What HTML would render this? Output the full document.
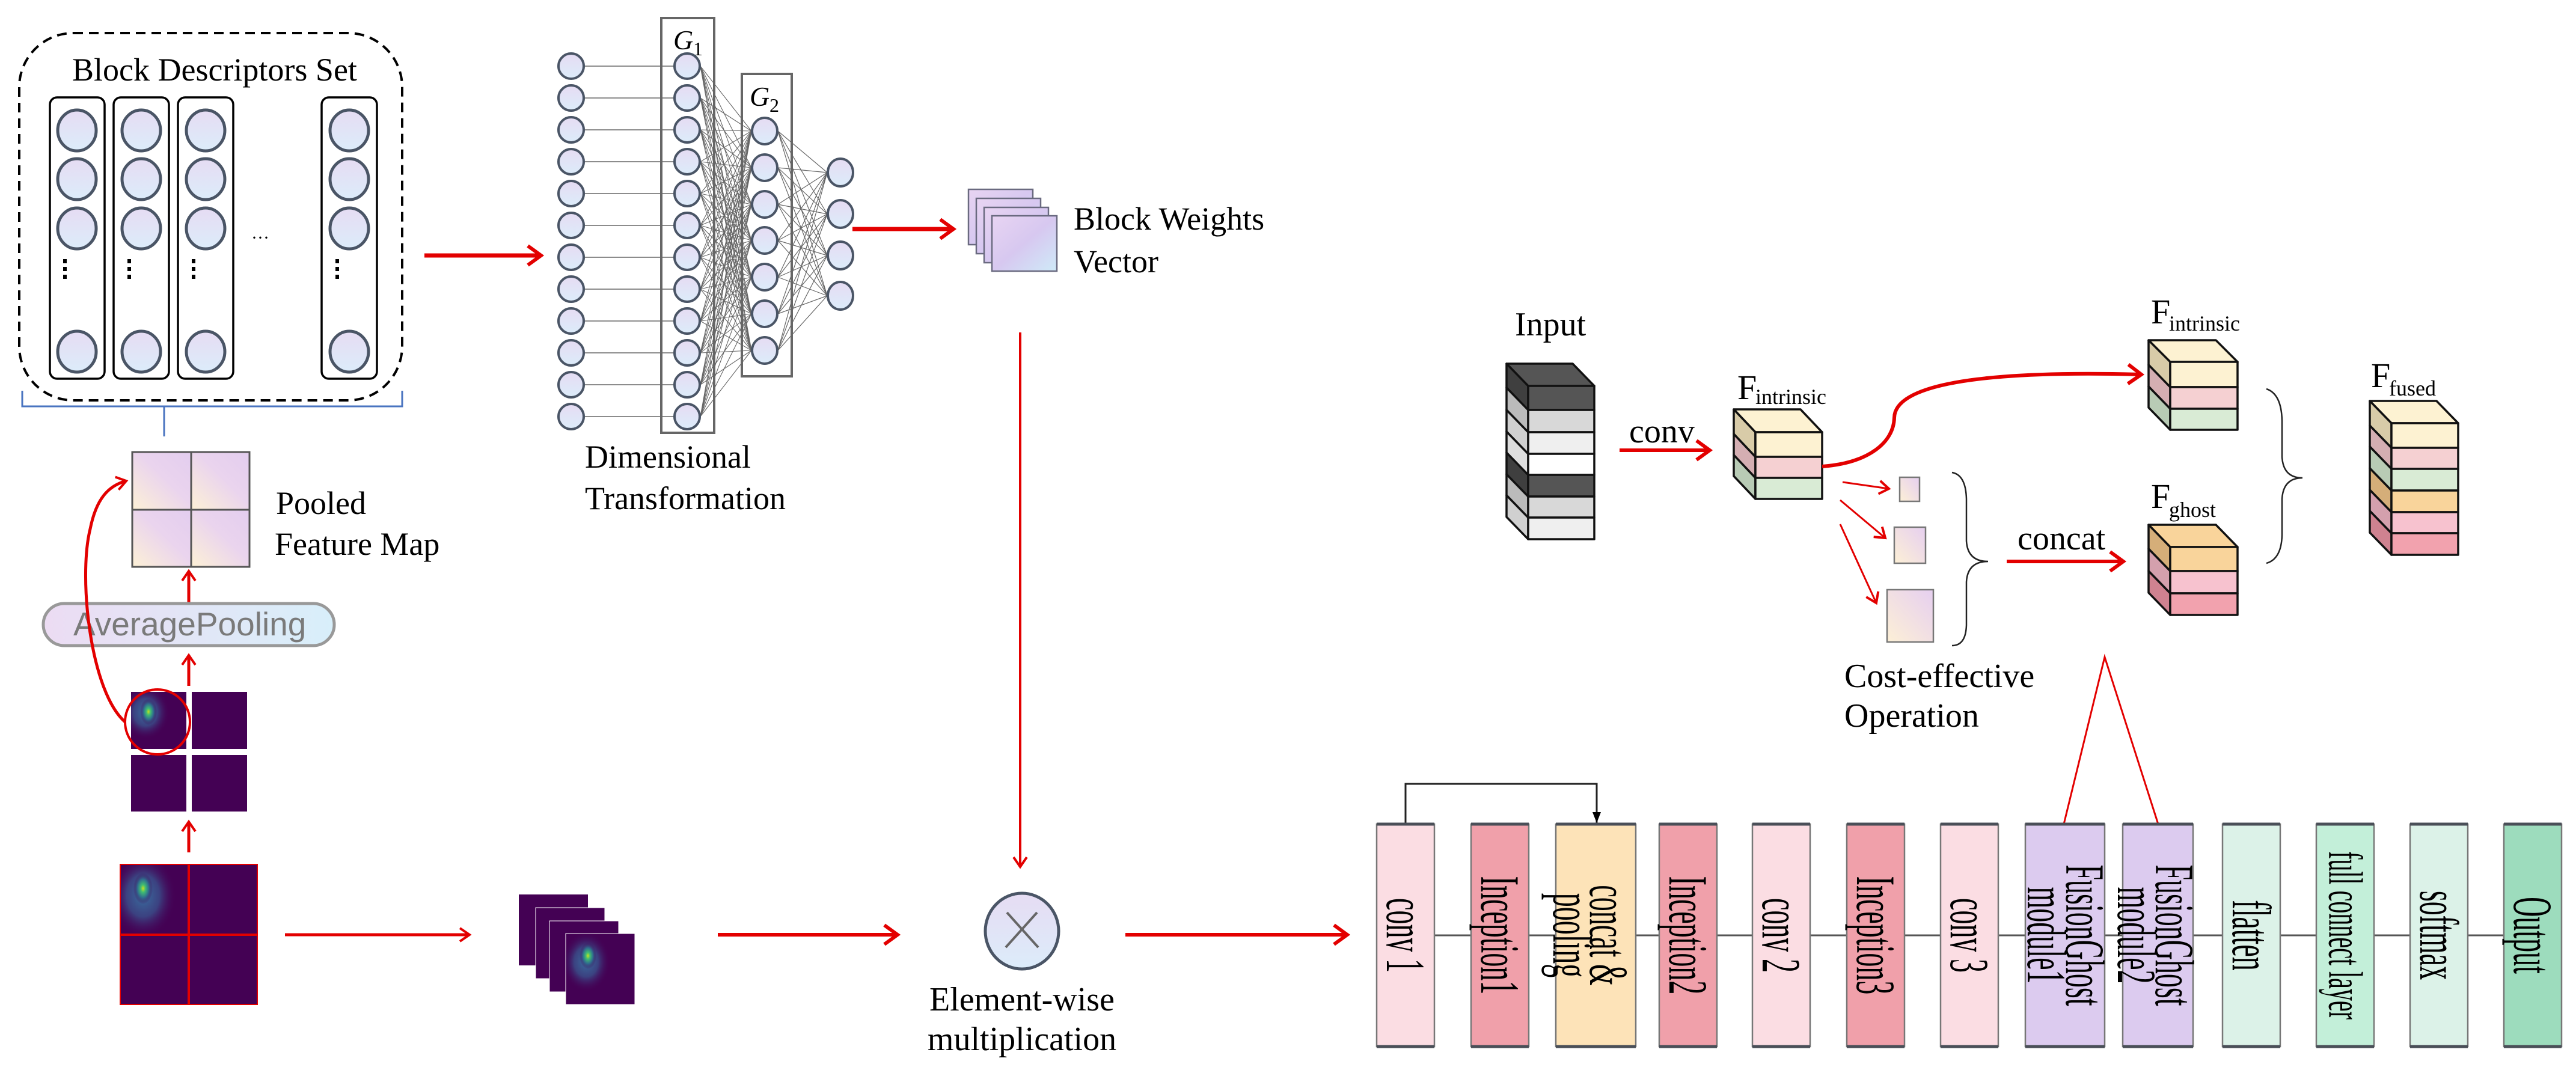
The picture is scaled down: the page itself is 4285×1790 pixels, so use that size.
<!DOCTYPE html>
<html><head><meta charset="utf-8"><style>
html,body{margin:0;padding:0;background:#fff;width:4285px;height:1790px;overflow:hidden}
svg{display:block}
text{font-family:"Liberation Serif",serif}
</style></head><body>
<svg width="4285" height="1790" viewBox="0 0 4285 1790" xmlns="http://www.w3.org/2000/svg">
<defs>
<linearGradient id="node" x1="0" y1="0" x2="0" y2="1"><stop offset="0" stop-color="#e6dcf3"/><stop offset="1" stop-color="#dcecfa"/></linearGradient>
<linearGradient id="pool" x1="0" y1="1" x2="1" y2="0"><stop offset="0" stop-color="#fdf1d6"/><stop offset="0.55" stop-color="#ead4ee"/><stop offset="1" stop-color="#e3cdef"/></linearGradient>
<linearGradient id="bw" x1="0" y1="0" x2="1" y2="1"><stop offset="0" stop-color="#e8d4f2"/><stop offset="0.5" stop-color="#d7c8f0"/><stop offset="1" stop-color="#cfeaf8"/></linearGradient>
<linearGradient id="pill" x1="0" y1="0" x2="1" y2="0"><stop offset="0" stop-color="#ecdcf3"/><stop offset="1" stop-color="#d8effa"/></linearGradient>
<linearGradient id="sq" x1="1" y1="0" x2="0" y2="1"><stop offset="0" stop-color="#e6cff0"/><stop offset="1" stop-color="#fdf0d6"/></linearGradient>
<radialGradient id="hm" cx="0.5" cy="0.5" r="0.5"><stop offset="0" stop-color="#c8e020"/><stop offset="0.25" stop-color="#3fbc73"/><stop offset="0.6" stop-color="#2f6c8e"/><stop offset="1" stop-color="#440154" stop-opacity="0"/></radialGradient>
<radialGradient id="hm2" cx="0.5" cy="0.5" r="0.5"><stop offset="0" stop-color="#3a6fa0" stop-opacity="1"/><stop offset="0.5" stop-color="#39528c" stop-opacity="0.8"/><stop offset="1" stop-color="#440154" stop-opacity="0"/></radialGradient>
<clipPath id="c1"><rect x="218" y="1151" width="92" height="95"/></clipPath>
<clipPath id="c2"><rect x="200" y="1438" width="114" height="117"/></clipPath>
<clipPath id="c3"><rect x="941" y="1553" width="115" height="118"/></clipPath>
<marker id="ah" markerUnits="userSpaceOnUse" markerWidth="44" markerHeight="44" refX="36" refY="22" orient="auto"><path d="M14,6 L36,22 L14,38" fill="none" stroke="#e30000" stroke-width="6"/></marker>
<marker id="ahs" markerUnits="userSpaceOnUse" markerWidth="30" markerHeight="30" refX="26" refY="15" orient="auto"><path d="M10,4 L26,15 L10,26" fill="none" stroke="#e30000" stroke-width="4"/></marker>
<marker id="ahb" markerUnits="userSpaceOnUse" markerWidth="20" markerHeight="30" refX="18" refY="10" orient="auto"><path d="M0,3 L18,10 L0,17 Z" fill="#000"/></marker>
</defs>

<rect x="32" y="55" width="637" height="611" rx="90" fill="none" stroke="#000" stroke-width="4" stroke-dasharray="16 10"/>
<text x="120" y="134" font-size="54">Block Descriptors Set</text>
<g fill="none" stroke="#000" stroke-width="3.5">
<rect x="83" y="162" width="91" height="468" rx="12"/><rect x="189" y="162" width="92" height="468" rx="12"/><rect x="296" y="162" width="92" height="468" rx="12"/><rect x="535" y="162" width="92" height="468" rx="12"/>
</g>
<g fill="url(#node)" stroke="#4a5566" stroke-width="5">
<ellipse cx="128" cy="217" rx="32" ry="34"/><ellipse cx="128" cy="298" rx="32" ry="34"/><ellipse cx="128" cy="380" rx="32" ry="34"/><ellipse cx="128" cy="585" rx="32" ry="34"/>
<ellipse cx="235" cy="217" rx="32" ry="34"/><ellipse cx="235" cy="298" rx="32" ry="34"/><ellipse cx="235" cy="380" rx="32" ry="34"/><ellipse cx="235" cy="585" rx="32" ry="34"/>
<ellipse cx="342" cy="217" rx="32" ry="34"/><ellipse cx="342" cy="298" rx="32" ry="34"/><ellipse cx="342" cy="380" rx="32" ry="34"/><ellipse cx="342" cy="585" rx="32" ry="34"/>
<ellipse cx="581" cy="217" rx="32" ry="34"/><ellipse cx="581" cy="298" rx="32" ry="34"/><ellipse cx="581" cy="380" rx="32" ry="34"/><ellipse cx="581" cy="585" rx="32" ry="34"/>
</g>
<g stroke="#000" stroke-width="6" stroke-dasharray="7 6">
<line x1="108" y1="431" x2="108" y2="470"/><line x1="215" y1="431" x2="215" y2="470"/><line x1="322" y1="431" x2="322" y2="470"/><line x1="561" y1="431" x2="561" y2="470"/>
</g>
<text x="418" y="405" font-size="30">···</text>
<path d="M37,650 L37,676 L669,676 L669,650 M273,676 L273,726" fill="none" stroke="#4a74c0" stroke-width="3"/>

<line x1="706" y1="425" x2="900" y2="425" stroke="#e30000" stroke-width="7" marker-end="url(#ah)"/>

<rect x="1100" y="30" width="88" height="690" fill="none" stroke="#666" stroke-width="4"/>
<rect x="1234" y="123" width="83" height="503" fill="none" stroke="#666" stroke-width="4"/>
<text x="1120" y="82" font-size="46" font-style="italic">G</text><text x="1153" y="92" font-size="32">1</text>
<text x="1247" y="176" font-size="46" font-style="italic">G</text><text x="1280" y="186" font-size="32">2</text>
<g stroke="#666" stroke-width="1.6" fill="none">
<path d="M972 110H1121M972 163H1121M972 216H1121M972 269H1121M972 322H1121M972 375H1121M972 428H1121M972 481H1121M972 534H1121M972 587H1121M972 640H1121M972 693H1121"/>
<path stroke-width="1.1" d="M1165 110L1250 218M1165 110L1250 279M1165 110L1250 340M1165 110L1250 400M1165 110L1250 461M1165 110L1250 522M1165 110L1250 583
M1165 163L1250 218M1165 163L1250 279M1165 163L1250 340M1165 163L1250 400M1165 163L1250 461M1165 163L1250 522M1165 163L1250 583
M1165 216L1250 218M1165 216L1250 279M1165 216L1250 340M1165 216L1250 400M1165 216L1250 461M1165 216L1250 522M1165 216L1250 583
M1165 269L1250 218M1165 269L1250 279M1165 269L1250 340M1165 269L1250 400M1165 269L1250 461M1165 269L1250 522M1165 269L1250 583
M1165 322L1250 218M1165 322L1250 279M1165 322L1250 340M1165 322L1250 400M1165 322L1250 461M1165 322L1250 522M1165 322L1250 583
M1165 375L1250 218M1165 375L1250 279M1165 375L1250 340M1165 375L1250 400M1165 375L1250 461M1165 375L1250 522M1165 375L1250 583
M1165 428L1250 218M1165 428L1250 279M1165 428L1250 340M1165 428L1250 400M1165 428L1250 461M1165 428L1250 522M1165 428L1250 583
M1165 481L1250 218M1165 481L1250 279M1165 481L1250 340M1165 481L1250 400M1165 481L1250 461M1165 481L1250 522M1165 481L1250 583
M1165 534L1250 218M1165 534L1250 279M1165 534L1250 340M1165 534L1250 400M1165 534L1250 461M1165 534L1250 522M1165 534L1250 583
M1165 587L1250 218M1165 587L1250 279M1165 587L1250 340M1165 587L1250 400M1165 587L1250 461M1165 587L1250 522M1165 587L1250 583
M1165 640L1250 218M1165 640L1250 279M1165 640L1250 340M1165 640L1250 400M1165 640L1250 461M1165 640L1250 522M1165 640L1250 583
M1165 693L1250 218M1165 693L1250 279M1165 693L1250 340M1165 693L1250 400M1165 693L1250 461M1165 693L1250 522M1165 693L1250 583"/>
<path stroke-width="1.2" d="M1294 218L1376 287M1294 218L1376 356M1294 218L1376 425M1294 218L1376 492
M1294 279L1376 287M1294 279L1376 356M1294 279L1376 425M1294 279L1376 492
M1294 340L1376 287M1294 340L1376 356M1294 340L1376 425M1294 340L1376 492
M1294 400L1376 287M1294 400L1376 356M1294 400L1376 425M1294 400L1376 492
M1294 461L1376 287M1294 461L1376 356M1294 461L1376 425M1294 461L1376 492
M1294 522L1376 287M1294 522L1376 356M1294 522L1376 425M1294 522L1376 492
M1294 583L1376 287M1294 583L1376 356M1294 583L1376 425M1294 583L1376 492"/>
</g>
<g fill="url(#node)" stroke="#4a5566" stroke-width="4">
<ellipse cx="950" cy="110" rx="21" ry="21"/><ellipse cx="950" cy="163" rx="21" ry="21"/><ellipse cx="950" cy="216" rx="21" ry="21"/><ellipse cx="950" cy="269" rx="21" ry="21"/><ellipse cx="950" cy="322" rx="21" ry="21"/><ellipse cx="950" cy="375" rx="21" ry="21"/><ellipse cx="950" cy="428" rx="21" ry="21"/><ellipse cx="950" cy="481" rx="21" ry="21"/><ellipse cx="950" cy="534" rx="21" ry="21"/><ellipse cx="950" cy="587" rx="21" ry="21"/><ellipse cx="950" cy="640" rx="21" ry="21"/><ellipse cx="950" cy="693" rx="21" ry="21"/>
<ellipse cx="1143" cy="110" rx="21" ry="21"/><ellipse cx="1143" cy="163" rx="21" ry="21"/><ellipse cx="1143" cy="216" rx="21" ry="21"/><ellipse cx="1143" cy="269" rx="21" ry="21"/><ellipse cx="1143" cy="322" rx="21" ry="21"/><ellipse cx="1143" cy="375" rx="21" ry="21"/><ellipse cx="1143" cy="428" rx="21" ry="21"/><ellipse cx="1143" cy="481" rx="21" ry="21"/><ellipse cx="1143" cy="534" rx="21" ry="21"/><ellipse cx="1143" cy="587" rx="21" ry="21"/><ellipse cx="1143" cy="640" rx="21" ry="21"/><ellipse cx="1143" cy="693" rx="21" ry="21"/>
<ellipse cx="1272" cy="218" rx="21" ry="22"/><ellipse cx="1272" cy="279" rx="21" ry="22"/><ellipse cx="1272" cy="340" rx="21" ry="22"/><ellipse cx="1272" cy="400" rx="21" ry="22"/><ellipse cx="1272" cy="461" rx="21" ry="22"/><ellipse cx="1272" cy="522" rx="21" ry="22"/><ellipse cx="1272" cy="583" rx="21" ry="22"/>
<ellipse cx="1398" cy="287" rx="21" ry="23"/><ellipse cx="1398" cy="356" rx="21" ry="23"/><ellipse cx="1398" cy="425" rx="21" ry="23"/><ellipse cx="1398" cy="492" rx="21" ry="23"/>
</g>
<text x="973" y="778" font-size="54">Dimensional</text>
<text x="973" y="847" font-size="54">Transformation</text>

<line x1="1418" y1="381" x2="1586" y2="381" stroke="#e30000" stroke-width="7" marker-end="url(#ah)"/>
<g fill="url(#bw)" stroke="#6a6a80" stroke-width="2.5">
<rect x="1611" y="315" width="107" height="92"/><rect x="1624" y="330" width="107" height="92"/><rect x="1637" y="345" width="107" height="92"/><rect x="1650" y="359" width="108" height="92"/>
</g>
<text x="1786" y="382" font-size="54">Block Weights</text>
<text x="1786" y="453" font-size="54">Vector</text>
<line x1="1697" y1="553" x2="1697" y2="1442" stroke="#e30000" stroke-width="4" marker-end="url(#ahs)"/>

<rect x="220" y="752" width="98" height="96" fill="url(#pool)"/><rect x="318" y="752" width="97" height="96" fill="url(#pool)"/>
<rect x="220" y="848" width="98" height="95" fill="url(#pool)"/><rect x="318" y="848" width="97" height="95" fill="url(#pool)"/>
<rect x="220" y="752" width="195" height="191" fill="none" stroke="#555" stroke-width="3"/>
<path d="M318,752V943M220,848H415" stroke="#555" stroke-width="3"/>
<text x="459" y="855" font-size="54">Pooled</text>
<text x="457" y="923" font-size="54">Feature Map</text>
<line x1="314" y1="1002" x2="314" y2="950" stroke="#e30000" stroke-width="5" marker-end="url(#ahs)"/>
<rect x="72" y="1004" width="484" height="70" rx="35" fill="url(#pill)" stroke="#999" stroke-width="5"/>
<text x="122" y="1057" font-size="55" style="font-family:'Liberation Sans',sans-serif;fill:#7a7a7a">AveragePooling</text>
<line x1="314" y1="1141" x2="314" y2="1090" stroke="#e30000" stroke-width="5" marker-end="url(#ahs)"/>

<rect x="218" y="1151" width="92" height="95" fill="#440154"/><rect x="319" y="1151" width="92" height="95" fill="#440154"/>
<rect x="218" y="1256" width="92" height="94" fill="#440154"/><rect x="319" y="1256" width="92" height="94" fill="#440154"/>
<g clip-path="url(#c1)">
<ellipse cx="242" cy="1185" rx="40" ry="45" fill="url(#hm2)"/>
<ellipse cx="247" cy="1184" rx="14" ry="22" fill="url(#hm)"/>
</g>
<circle cx="262" cy="1201" r="54" fill="none" stroke="#e30000" stroke-width="4"/>
<path d="M208,1201 C150,1150 130,960 150,880 C160,830 180,808 210,800" fill="none" stroke="#e30000" stroke-width="5" marker-end="url(#ahs)"/>
<line x1="314" y1="1418" x2="314" y2="1367" stroke="#e30000" stroke-width="5" marker-end="url(#ahs)"/>

<rect x="200" y="1438" width="228" height="233" fill="#440154"/>
<g clip-path="url(#c2)">
<ellipse cx="238" cy="1490" rx="55" ry="70" fill="url(#hm2)"/>
<ellipse cx="238" cy="1478" rx="16" ry="26" fill="url(#hm)"/>
</g>
<rect x="200" y="1438" width="228" height="233" fill="none" stroke="#e30000" stroke-width="2"/>
<path d="M314,1438V1671M200,1555H428" stroke="#e30000" stroke-width="4"/>
<line x1="474" y1="1555" x2="781" y2="1555" stroke="#e30000" stroke-width="5" marker-end="url(#ahs)"/>

<rect x="863" y="1488" width="115" height="118" fill="#440154"/>
<rect x="891" y="1510" width="115" height="118" fill="#440154" stroke="#fff" stroke-width="1"/>
<rect x="914" y="1532" width="115" height="118" fill="#440154" stroke="#fff" stroke-width="1"/>
<rect x="941" y="1553" width="115" height="118" fill="#440154" stroke="#fff" stroke-width="1"/>
<g clip-path="url(#c3)">
<ellipse cx="975" cy="1600" rx="40" ry="50" fill="url(#hm2)"/>
<ellipse cx="978" cy="1590" rx="14" ry="22" fill="url(#hm)"/>
</g>
<line x1="1194" y1="1555" x2="1493" y2="1555" stroke="#e30000" stroke-width="6" marker-end="url(#ah)"/>

<ellipse cx="1700" cy="1549" rx="61" ry="63" fill="url(#node)" stroke="#4a5566" stroke-width="5"/>
<path d="M1675,1518 L1727,1576 M1725,1518 L1673,1576" stroke="#666" stroke-width="4"/>
<text x="1700" y="1681" font-size="56" text-anchor="middle">Element-wise</text>
<text x="1700" y="1747" font-size="56" text-anchor="middle">multiplication</text>
<line x1="1872" y1="1555" x2="2241" y2="1555" stroke="#e30000" stroke-width="6" marker-end="url(#ah)"/>

<text x="2520" y="558" font-size="56">Input</text>
<g stroke="#111" stroke-width="3.5" stroke-linejoin="round">
<polygon points="2506,605 2616,605 2652,642 2542,642" fill="#555"/>
<polygon points="2542,642 2542,682 2506,645 2506,605" fill="#3f3f3f"/>
<polygon points="2542,682 2542,719 2506,682 2506,645" fill="#bbb"/>
<polygon points="2542,719 2542,755 2506,718 2506,682" fill="#d0d0d0"/>
<polygon points="2542,755 2542,790 2506,753 2506,718" fill="#ddd"/>
<polygon points="2542,790 2542,826 2506,789 2506,753" fill="#3f3f3f"/>
<polygon points="2542,826 2542,861 2506,824 2506,789" fill="#bbb"/>
<polygon points="2542,861 2542,897 2506,860 2506,824" fill="#d0d0d0"/>
<rect x="2542" y="642" width="110" height="40" fill="#555"/>
<rect x="2542" y="682" width="110" height="37" fill="#d8d8d8"/>
<rect x="2542" y="719" width="110" height="36" fill="#efefef"/>
<rect x="2542" y="755" width="110" height="35" fill="#fff"/>
<rect x="2542" y="790" width="110" height="36" fill="#555"/>
<rect x="2542" y="826" width="110" height="35" fill="#d8d8d8"/>
<rect x="2542" y="861" width="110" height="36" fill="#efefef"/>
</g>
<text x="2710" y="736" font-size="56">conv</text>
<line x1="2694" y1="749" x2="2844" y2="749" stroke="#e30000" stroke-width="6" marker-end="url(#ah)"/>

<text x="2890" y="664" font-size="58">F</text><text x="2920" y="672" font-size="36">intrinsic</text>
<g stroke="#111" stroke-width="3.5" stroke-linejoin="round">
<polygon points="2884,681 2995,681 3031,719 2920,719" fill="#fdf2d2"/>
<polygon points="2920,719 2920,760 2884,722 2884,681" fill="#d8cba8"/>
<polygon points="2920,760 2920,795 2884,757 2884,722" fill="#d4aeb2"/>
<polygon points="2920,795 2920,830 2884,792 2884,757" fill="#b8cbb5"/>
<rect x="2920" y="719" width="111" height="41" fill="#fdf2d2"/>
<rect x="2920" y="760" width="111" height="35" fill="#f5d0d2"/>
<rect x="2920" y="795" width="111" height="35" fill="#d9ebd5"/>
</g>
<path d="M3031,776 C3110,770 3150,735 3151,695 C3152,625 3380,618 3562,623" fill="none" stroke="#e30000" stroke-width="6" marker-end="url(#ah)"/>

<text x="3578" y="538" font-size="58">F</text><text x="3608" y="550" font-size="36">intrinsic</text>
<g stroke="#111" stroke-width="3.5" stroke-linejoin="round">
<polygon points="3574,566 3686,566 3722,602 3610,602" fill="#fdf2d2"/>
<polygon points="3610,602 3610,644 3574,607 3574,566" fill="#d8cba8"/>
<polygon points="3610,644 3610,680 3574,643 3574,607" fill="#d4aeb2"/>
<polygon points="3610,680 3610,715 3574,678 3574,643" fill="#b8cbb5"/>
<rect x="3610" y="602" width="112" height="42" fill="#fdf2d2"/>
<rect x="3610" y="644" width="112" height="36" fill="#f5d0d2"/>
<rect x="3610" y="680" width="112" height="35" fill="#d9ebd5"/>
</g>

<g stroke="#e30000" stroke-width="3" fill="none">
<line x1="3065" y1="802" x2="3142" y2="813" marker-end="url(#ahs)"/>
<line x1="3061" y1="832" x2="3136" y2="895" marker-end="url(#ahs)"/>
<line x1="3061" y1="872" x2="3121" y2="1003" marker-end="url(#ahs)"/>
</g>
<g fill="url(#sq)" stroke="#777" stroke-width="2.5">
<rect x="3160" y="794" width="33" height="40"/><rect x="3151" y="877" width="52" height="60"/><rect x="3139" y="981" width="77" height="87"/>
</g>
<path d="M3247,786 Q3270,790 3271,830 L3271,900 Q3273,934 3307,934 Q3273,934 3271,968 L3271,1040 Q3270,1074 3247,1074" fill="none" stroke="#222" stroke-width="2.5"/>
<text x="3356" y="914" font-size="56">concat</text>
<line x1="3338" y1="934" x2="3532" y2="934" stroke="#e30000" stroke-width="6" marker-end="url(#ah)"/>
<text x="3068" y="1143" font-size="56">Cost-effective</text>
<text x="3068" y="1209" font-size="56">Operation</text>

<text x="3578" y="845" font-size="58">F</text><text x="3608" y="860" font-size="36">ghost</text>
<g stroke="#111" stroke-width="3.5" stroke-linejoin="round">
<polygon points="3574,873 3686,873 3722,910 3610,910" fill="#f9d49b"/>
<polygon points="3610,910 3610,950 3574,913 3574,873" fill="#d5ae79"/>
<polygon points="3610,950 3610,987 3574,950 3574,913" fill="#d4a0ad"/>
<polygon points="3610,987 3610,1023 3574,986 3574,950" fill="#cf8290"/>
<rect x="3610" y="910" width="112" height="40" fill="#f9d49b"/>
<rect x="3610" y="950" width="112" height="37" fill="#f7c2cf"/>
<rect x="3610" y="987" width="112" height="36" fill="#f2a2ae"/>
</g>
<path d="M3770,647 Q3795,655 3796,700 L3796,760 Q3798,795 3830,795 Q3798,795 3796,830 L3796,890 Q3795,930 3770,937" fill="none" stroke="#222" stroke-width="2.5"/>

<text x="3944" y="644" font-size="58">F</text><text x="3974" y="658" font-size="36">fused</text>
<g stroke="#111" stroke-width="3.5" stroke-linejoin="round">
<polygon points="3942,667 4053,667 4089,704 3978,704" fill="#fdf2d2"/>
<polygon points="3978,704 3978,745 3942,708 3942,667" fill="#d8cba8"/>
<polygon points="3978,745 3978,780 3942,743 3942,708" fill="#d4aeb2"/>
<polygon points="3978,780 3978,816 3942,779 3942,743" fill="#b8cbb5"/>
<polygon points="3978,816 3978,852 3942,815 3942,779" fill="#d5ae79"/>
<polygon points="3978,852 3978,887 3942,850 3942,815" fill="#d4a0ad"/>
<polygon points="3978,887 3978,923 3942,886 3942,850" fill="#cf8290"/>
<rect x="3978" y="704" width="111" height="41" fill="#fdf2d2"/>
<rect x="3978" y="745" width="111" height="35" fill="#f5d0d2"/>
<rect x="3978" y="780" width="111" height="36" fill="#d9ebd5"/>
<rect x="3978" y="816" width="111" height="36" fill="#f9d49b"/>
<rect x="3978" y="852" width="111" height="35" fill="#f7c2cf"/>
<rect x="3978" y="887" width="111" height="36" fill="#f2a2ae"/>
</g>

<path d="M3433,1371 L3501,1093 L3590,1371" fill="none" stroke="#e30000" stroke-width="3"/>

<line x1="2386" y1="1556" x2="4165" y2="1556" stroke="#555" stroke-width="3"/>
<path d="M2338,1371 V1304 H2656 V1369" fill="none" stroke="#222" stroke-width="3" marker-end="url(#ahb)"/>
<g stroke="#777" stroke-width="2.5">
<rect x="2290" y="1371" width="96" height="370" fill="#fbdde3"/>
<rect x="2447" y="1371" width="96" height="370" fill="#f0a0aa"/>
<rect x="2588" y="1371" width="133" height="370" fill="#fde3b8"/>
<rect x="2760" y="1371" width="96" height="370" fill="#f0a0aa"/>
<rect x="2915" y="1371" width="96" height="370" fill="#fbdde3"/>
<rect x="3072" y="1371" width="96" height="370" fill="#f0a0aa"/>
<rect x="3228" y="1371" width="96" height="370" fill="#fbdde3"/>
<rect x="3369" y="1371" width="132" height="370" fill="#dccbef"/>
<rect x="3531" y="1371" width="117" height="370" fill="#dccbef"/>
<rect x="3697" y="1371" width="96" height="370" fill="#dcf2e8"/>
<rect x="3853" y="1371" width="96" height="370" fill="#c3efd9"/>
<rect x="4009" y="1371" width="96" height="370" fill="#dcf2e8"/>
<rect x="4165" y="1371" width="96" height="370" fill="#9ddcbd"/>
</g>
<g stroke="#4a4f58" stroke-width="5">
<path d="M2290,1371h96M2447,1371h96M2588,1371h133M2760,1371h96M2915,1371h96M3072,1371h96M3228,1371h96M3369,1371h132M3531,1371h117M3697,1371h96M3853,1371h96M4009,1371h96M4165,1371h96"/>
<path d="M2290,1741h96M2447,1741h96M2588,1741h133M2760,1741h96M2915,1741h96M3072,1741h96M3228,1741h96M3369,1741h132M3531,1741h117M3697,1741h96M3853,1741h96M4009,1741h96M4165,1741h96"/>
</g>
<g font-size="92" text-anchor="middle" dominant-baseline="central">
<text transform="translate(2338,1556) rotate(90) scale(0.5,1)">conv 1</text>
<text transform="translate(2495,1556) rotate(90) scale(0.5,1)">Inception1</text>
<text transform="translate(2676,1556) rotate(90) scale(0.5,1)">concat &amp;</text>
<text transform="translate(2615,1556) rotate(90) scale(0.5,1)">pooling</text>
<text transform="translate(2808,1556) rotate(90) scale(0.5,1)">Inception2</text>
<text transform="translate(2963,1556) rotate(90) scale(0.5,1)">conv 2</text>
<text transform="translate(3120,1556) rotate(90) scale(0.5,1)">Inception3</text>
<text transform="translate(3276,1556) rotate(90) scale(0.5,1)">conv 3</text>
<text transform="translate(3468,1556) rotate(90) scale(0.5,1)">FusionGhost</text>
<text transform="translate(3404,1556) rotate(90) scale(0.5,1)">module1</text>
<text transform="translate(3617,1556) rotate(90) scale(0.5,1)">FusionGhost</text>
<text transform="translate(3554,1556) rotate(90) scale(0.5,1)">module2</text>
<text transform="translate(3745,1556) rotate(90) scale(0.5,1)">flatten</text>
<text transform="translate(3901,1556) rotate(90) scale(0.5,1)" font-size="80">full connect layer</text>
<text transform="translate(4057,1556) rotate(90) scale(0.5,1)">softmax</text>
<text transform="translate(4213,1556) rotate(90) scale(0.5,1)">Output</text>
</g>
</svg>
</body></html>
